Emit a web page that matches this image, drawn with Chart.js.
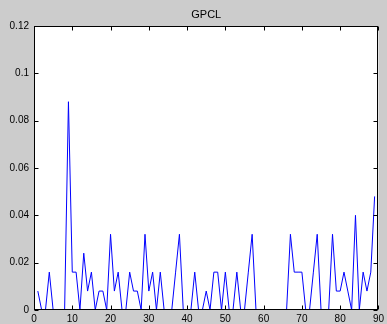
<!DOCTYPE html>
<html>
<head>
<meta charset="utf-8">
<script src="https://cdn.jsdelivr.net/npm/chart.js@4/dist/chart.umd.min.js"></script>
<style>
  html, body { margin: 0; padding: 0; background: #cccccc; }
  #wrap { width: 387px; height: 324px; }
</style>
</head>
<body>
<div id="wrap"><canvas id="chart" width="387" height="324"></canvas></div>
<script>
// 標題與刻度
const chartTitle = 'GPCL';
const xTicks = [0, 10, 20, 30, 40, 50, 60, 70, 80, 90];
const yTicks = [0, 0.02, 0.04, 0.06, 0.08, 0.1, 0.12];

// 資料 (x = 1 ~ 89)
const xValues = [
    1, 2, 3, 4, 5, 6, 7, 8, 9, 10,
    11, 12, 13, 14, 15, 16, 17, 18, 19, 20,
    21, 22, 23, 24, 25, 26, 27, 28, 29, 30,
    31, 32, 33, 34, 35, 36, 37, 38, 39, 40,
    41, 42, 43, 44, 45, 46, 47, 48, 49, 50,
    51, 52, 53, 54, 55, 56, 57, 58, 59, 60,
    61, 62, 63, 64, 65, 66, 67, 68, 69, 70,
    71, 72, 73, 74, 75, 76, 77, 78, 79, 80,
    81, 82, 83, 84, 85, 86, 87, 88, 89
];
const gpclValues = [
    0.008, 0, 0, 0.016, 0, 0, 0, 0, 0.088, 0.016,
    0.016, 0, 0.024, 0.008, 0.016, 0, 0.008, 0.008, 0, 0.032,
    0.008, 0.016, 0, 0, 0.016, 0.008, 0.008, 0, 0.032, 0.008,
    0.016, 0, 0.016, 0, 0, 0, 0.016, 0.032, 0, 0,
    0, 0.016, 0, 0, 0.008, 0, 0.016, 0.016, 0, 0.016,
    0, 0, 0.016, 0, 0, 0.016, 0.032, 0, 0, 0,
    0, 0, 0, 0, 0, 0, 0.032, 0.016, 0.016, 0.016,
    0, 0, 0.016, 0.032, 0, 0, 0, 0.032, 0.008, 0.008,
    0.016, 0.008, 0, 0.04, 0, 0.016, 0.008, 0.016, 0.048
];

const tickFont = { family: 'Liberation Sans, Arial, sans-serif', size: 10 };

// 白色繪圖區、外框、向內刻度與標題
const axesBox = {
    id: 'axesBox',
    beforeDraw(chart) {
        const { ctx, chartArea: a } = chart;
        ctx.save();
        ctx.fillStyle = '#ffffff';
        ctx.fillRect(a.left, a.top, a.right - a.left, a.bottom - a.top);
        ctx.restore();
    },
    afterDraw(chart) {
        const { ctx, chartArea: a, scales } = chart;
        const l = Math.round(a.left) + 0.5, r = Math.round(a.right) - 0.5;
        const t = Math.round(a.top) + 0.5, b = Math.round(a.bottom) - 0.5;
        ctx.save();
        ctx.strokeStyle = '#000000';
        ctx.lineWidth = 1;
        ctx.strokeRect(l, t, r - l, b - t);
        ctx.beginPath();
        xTicks.forEach(v => {
            const px = Math.round(scales.x.getPixelForValue(v)) + 0.5;
            ctx.moveTo(px, b); ctx.lineTo(px, b - 4);
            ctx.moveTo(px, t); ctx.lineTo(px, t + 4);
        });
        yTicks.forEach(v => {
            const py = Math.round(scales.y.getPixelForValue(v)) + 0.5;
            ctx.moveTo(l, py); ctx.lineTo(l + 4, py);
            ctx.moveTo(r, py); ctx.lineTo(r - 4, py);
        });
        ctx.stroke();
        ctx.fillStyle = '#000000';
        ctx.font = '11px "Liberation Sans", Arial, sans-serif';
        ctx.textAlign = 'center';
        ctx.textBaseline = 'alphabetic';
        ctx.fillText(chartTitle, (a.left + a.right) / 2, 18);
        ctx.restore();
    }
};

new Chart(document.getElementById('chart'), {
    type: 'line',
    data: {
        datasets: [{
            data: xValues.map((x, i) => ({ x: x, y: gpclValues[i] })),
            borderColor: '#0000ff',
            borderWidth: 1,
            pointRadius: 0,
            tension: 0,
            fill: false
        }]
    },
    options: {
        responsive: false,
        animation: false,
        layout: { padding: { top: 26, right: 5, left: 0, bottom: 0 } },
        plugins: {
            legend: { display: false },
            tooltip: { enabled: false },
            title: { display: false }
        },
        scales: {
            x: {
                type: 'linear',
                min: 0,
                max: 90,
                afterBuildTicks: s => { s.ticks = xTicks.map(v => ({ value: v })); },
                afterFit: s => { s.height = 14; },
                grid: { display: false, drawTicks: false },
                border: { display: false },
                ticks: { font: tickFont, color: '#000000', padding: 3, maxRotation: 0, autoSkip: false }
            },
            y: {
                type: 'linear',
                min: 0,
                max: 0.12,
                afterBuildTicks: s => { s.ticks = yTicks.map(v => ({ value: v })); },
                afterFit: s => { s.width = 34; },
                grid: { display: false, drawTicks: false },
                border: { display: false },
                ticks: {
                    font: tickFont,
                    color: '#000000',
                    padding: 5,
                    autoSkip: false,
                    callback: v => String(+v.toFixed(2))
                }
            }
        }
    },
    plugins: [axesBox]
});
</script>
</body>
</html>
